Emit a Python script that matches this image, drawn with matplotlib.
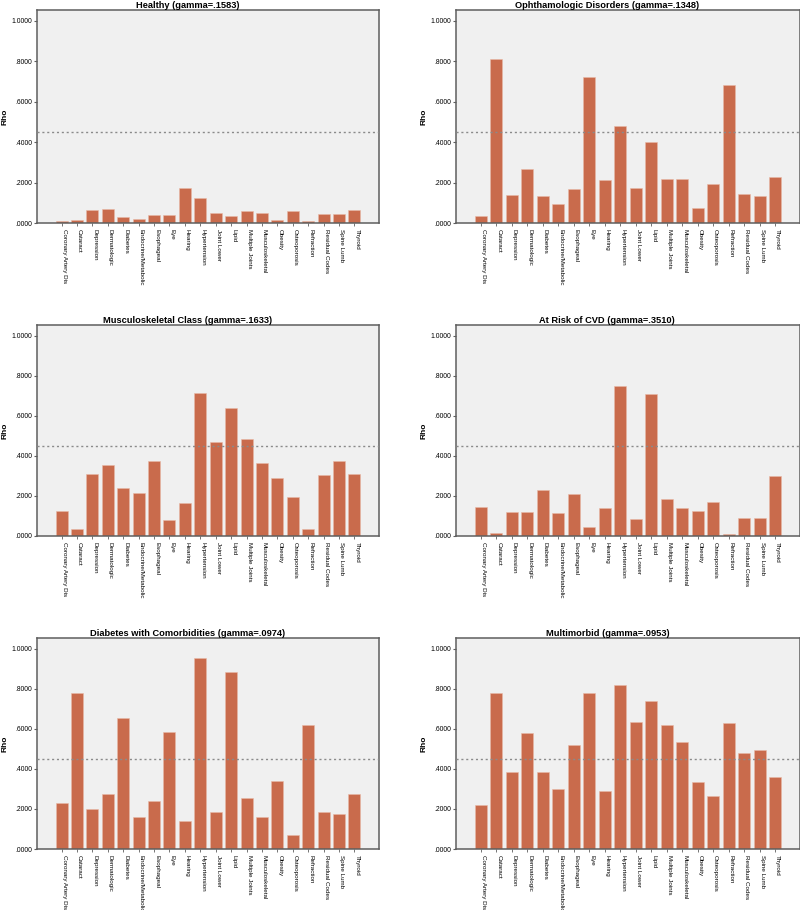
import matplotlib
matplotlib.use("Agg")
import matplotlib.pyplot as plt
from matplotlib.ticker import FuncFormatter

plt.rcParams['font.family'] = ['Liberation Sans', 'DejaVu Sans']

categories = ["Coronary Artery Dis", "Cataract", "Depression", "Dermatologic",
              "Diabetes", "Endocrine/Metabolic", "Esophageal", "Eye", "Hearing",
              "Hypertension", "Joint Lower", "Lipid", "Multiple Joints",
              "Musculoskeletal", "Obesity", "Osteoporosis", "Refraction",
              "Residual Codes", "Spine Lumb", "Thyroid"]

healthy = [0.008, 0.015, 0.063, 0.069, 0.030, 0.018, 0.041, 0.040, 0.172, 0.125,
           0.051, 0.035, 0.058, 0.048, 0.017, 0.059, 0.012, 0.045, 0.045, 0.066]
ophthalmologic = [0.036, 0.812, 0.137, 0.269, 0.134, 0.096, 0.170, 0.723, 0.211, 0.479,
                  0.172, 0.401, 0.216, 0.219, 0.074, 0.191, 0.680, 0.145, 0.132, 0.228]
musculoskeletal = [0.125, 0.035, 0.309, 0.354, 0.238, 0.216, 0.373, 0.080, 0.165, 0.712,
                   0.469, 0.641, 0.484, 0.366, 0.288, 0.196, 0.037, 0.304, 0.376, 0.308]
cvd_risk = [0.143, 0.013, 0.120, 0.120, 0.228, 0.113, 0.211, 0.047, 0.140, 0.750,
            0.087, 0.707, 0.183, 0.138, 0.123, 0.170, 0.008, 0.092, 0.092, 0.298]
diabetes_comorb = [0.229, 0.778, 0.199, 0.273, 0.652, 0.159, 0.242, 0.584, 0.140, 0.955,
                   0.186, 0.885, 0.254, 0.162, 0.341, 0.070, 0.620, 0.187, 0.177, 0.276]
multimorbid = [0.222, 0.779, 0.386, 0.579, 0.386, 0.299, 0.518, 0.778, 0.289, 0.816,
               0.634, 0.741, 0.619, 0.535, 0.334, 0.266, 0.629, 0.477, 0.492, 0.360]

titles = ["Healthy (gamma=.1583)", "Ophthamologic Disorders (gamma=.1348)",
          "Musculoskeletal Class (gamma=.1633)", "At Risk of CVD (gamma=.3510)",
          "Diabetes with Comorbidities (gamma=.0974)", "Multimorbid (gamma=.0953)"]
panels = [healthy, ophthalmologic, musculoskeletal, cvd_risk, diabetes_comorb, multimorbid]
threshold = 0.45

BAR = '#C96B4C'
BG = '#F0F0F0'
SPINE = '#5E5E5E'

fig = plt.figure(figsize=(8, 9.1), dpi=100)

# axes boxes in pixels: (left, right) per column, (top, bottom) per row
cols = [(37, 379), (456, 800)]
rows = [(10, 223), (325, 536), (638, 849)]

x = list(range(len(categories)))
fmt = FuncFormatter(lambda v, p: f"{v:.4f}".lstrip('0') if v < 1 else f"{v:.4f}")

for i, (title, vals) in enumerate(zip(titles, panels)):
    l, r = cols[i % 2]
    t, b = rows[i // 2]
    ax = fig.add_axes([l / 800, 1 - b / 910, (r - l) / 800, (b - t) / 910])
    ax.set_facecolor(BG)
    ax.bar(x, vals, width=0.78, color=BAR, edgecolor='#E8B9A6', linewidth=0.4, zorder=2)
    ax.axhline(threshold, color='#8A8A8A', linestyle=(0, (1.5, 2)), linewidth=1.0, zorder=3)
    ax.set_xlim(-1.6, 20.6)
    ax.set_ylim(0, 1.053)
    ax.set_yticks([0, 0.2, 0.4, 0.6, 0.8, 1.0])
    ax.yaxis.set_major_formatter(fmt)
    ax.set_xticks(x)
    ax.set_xticklabels(categories, rotation=270, ha='left', va='top', fontsize=4.5)
    ax.tick_params(axis='y', labelsize=4.9, length=2.5, width=0.8, pad=1, color=SPINE)
    ax.tick_params(axis='x', length=2.5, width=0.6, pad=1.5, color=SPINE)
    for sp in ax.spines.values():
        sp.set_color(SPINE)
        sp.set_linewidth(1.1)
    ax.set_ylabel("Rho", fontsize=6, fontweight='bold')
    ax.yaxis.set_label_coords(-0.082, 0.5)
    ax.set_title(title, fontsize=6.7, fontweight='bold', x=0.44, pad=1)

fig.savefig("out.png", dpi=100)
